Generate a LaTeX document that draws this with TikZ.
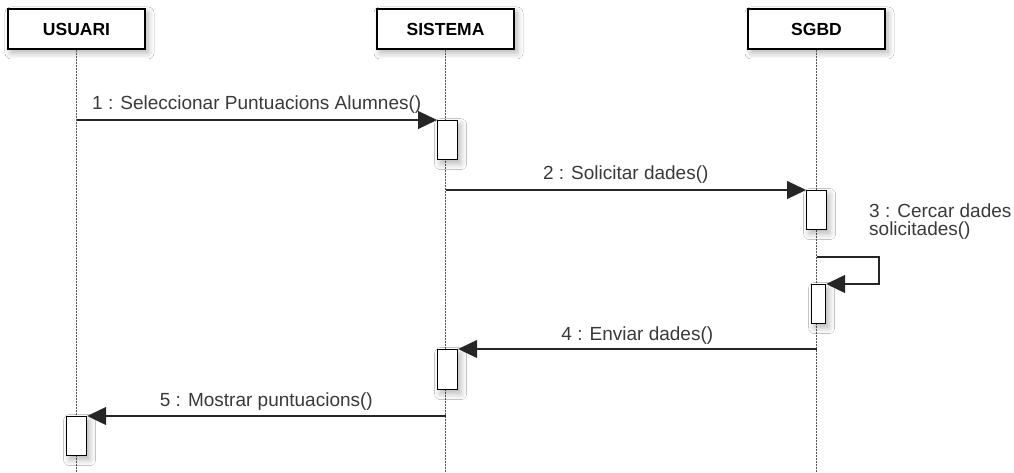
\documentclass[tikz,border=0pt]{standalone}
\usepackage{fontspec}
\setmainfont{Liberation Sans}
\usetikzlibrary{arrows.meta,shadows.blur}
\definecolor{txt}{HTML}{3A3A3A}
\definecolor{lifeg}{HTML}{555555}
\begin{document}
\begin{tikzpicture}[x=1pt,y=-1pt,
  softshadow/.style={blur shadow={shadow xshift=3pt, shadow yshift=-4pt,
      shadow blur steps=8, shadow blur radius=6pt, shadow opacity=30}},
  head/.style={draw=black, line width=1.2pt, fill=white, softshadow,
      minimum width=137pt, minimum height=40pt, inner sep=0pt,
      font=\fontsize{17.5}{20}\selectfont\bfseries},
  act/.style={draw=black, line width=1.2pt, fill=white, softshadow,
      minimum width=20pt, minimum height=39pt, inner sep=0pt, anchor=north west},
  life/.style={draw=lifeg, line width=1pt, dash pattern=on 2pt off 1pt},
  msg/.style={draw=black!85, line width=1.2pt,
      -{Triangle[length=19pt,width=18pt]}},
  lbl/.style={font=\fontsize{19}{17.5}\selectfont, text=txt, inner sep=0pt},
]
\useasboundingbox[fill=white] (0,0) rectangle (1014,473);

% participants
\node[head] (u) at (76.5,29) {USUARI};
\node[head] (s) at (445.5,29) {SISTEMA};
\node[head] (d) at (816.5,29) {SGBD};

% lifelines
\coordinate (bot) at (0,473);
\draw[life] (u.south) -- (u.south |- bot);
\draw[life] (s.south) -- (s.south |- bot);
\draw[life] (d.south) -- (d.south |- bot);

% activation bars
\node[act] (a1) at (437,120) {};
\node[act] (a2) at (806,190) {};
\node[act, minimum width=14pt] (a3) at (811,284) {};
\node[act, minimum height=40pt] (a4) at (437,349) {};
\node[act] (a5) at (66,416) {};

% 1
\draw[msg] (u.south |- a1.north west) -- (a1.north west)
  node[lbl, midway, anchor=base, yshift=10pt] {1 : Seleccionar Puntuacions Alumnes()};
% 2
\draw[msg] (s.south |- a2.north west) -- (a2.north west)
  node[lbl, midway, anchor=base, yshift=10pt] {2 : Solicitar dades()};
% 3 (self call)
\coordinate (loopA) at (879,257);
\coordinate (loopB) at (879,284);
\draw[msg] (d.south |- loopA) -- (loopA) -- (loopB) -- (a3.north east);
\node[lbl, anchor=north west, align=left] (l3) at (869,204) {3 : Cercar dades\\solicitades()};
% 4
\draw[msg] (d.south |- a4.north east) -- (a4.north east)
  node[lbl, midway, anchor=base, yshift=8.5pt] {4 : Enviar dades()};
% 5
\draw[msg] (s.south |- a5.north east) -- (a5.north east)
  node[lbl, midway, anchor=base, yshift=10pt] {5 : Mostrar puntuacions()};
\end{tikzpicture}
\end{document}
